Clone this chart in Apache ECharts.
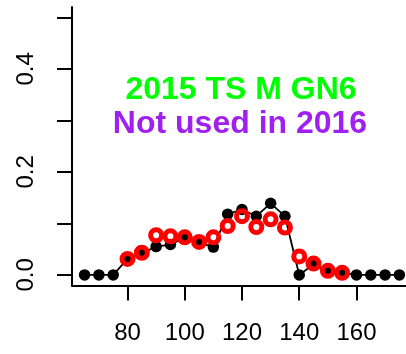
<!DOCTYPE html>
<html>
<head>
<meta charset="utf-8">
<script src="https://cdn.jsdelivr.net/npm/echarts@6/dist/echarts.min.js"></script>
<style>
  html, body { margin: 0; padding: 0; background: #fff; }
  #chart { width: 406px; height: 354px; }
</style>
</head>
<body>
<div id="chart"></div>
<script>
// Length bins (x) and the two proportion series
const lengths = [65, 70, 75, 80, 85, 90, 95, 100, 105, 110, 115, 120, 125, 130, 135, 140, 145, 150, 155, 160, 165, 170, 175];
const observed = [0, 0, 0, 0.031, 0.042, 0.055, 0.059, 0.072, 0.063, 0.054, 0.118, 0.127, 0.114, 0.139, 0.114, 0, 0.021, 0.006, 0.004, 0, 0, 0, 0];
const expectedLens = [80, 85, 90, 95, 100, 105, 110, 115, 120, 125, 130, 135, 140, 145, 150, 155];
const expected = [0.031, 0.043, 0.077, 0.075, 0.073, 0.064, 0.073, 0.095, 0.114, 0.093, 0.108, 0.092, 0.036, 0.022, 0.008, 0.004];

const xTicks = [80, 100, 120, 140, 160];
const yTicks = [0, 0.1, 0.2, 0.3, 0.4, 0.5];
const yLabels = [0, 0.2, 0.4];

const titleLine1 = '2015 TS M GN6';
const titleLine2 = 'Not used in 2016';

const chart = echarts.init(document.getElementById('chart'), null, { renderer: 'canvas' });

const axisLineStyle = { color: '#000', width: 2 };

chart.setOption({
  animation: false,
  backgroundColor: '#fff',
  grid: {
    left: 72, top: 7, right: -6, bottom: 68.4,
    containLabel: false,
    outerBoundsMode: 'none'
  },
  xAxis: {
    type: 'value',
    min: 60.6, max: 179.4,
    axisLine: { show: true, onZero: false, lineStyle: axisLineStyle },
    axisTick: { show: true, length: 15, lineStyle: axisLineStyle, customValues: xTicks },
    axisLabel: {
      show: true, margin: 36, customValues: xTicks,
      fontFamily: 'Liberation Sans, Arial, sans-serif', fontSize: 24, color: '#000'
    },
    splitLine: { show: false }
  },
  yAxis: {
    type: 'value',
    min: -0.0207, max: 0.52,
    axisLine: { show: true, onZero: false, lineStyle: axisLineStyle },
    axisTick: { show: true, length: 15, lineStyle: axisLineStyle, customValues: yTicks },
    axisLabel: {
      show: true, margin: 34, rotate: 90, customValues: yLabels,
      formatter: v => Number(v).toFixed(1),
      fontFamily: 'Liberation Sans, Arial, sans-serif', fontSize: 24, color: '#000'
    },
    splitLine: { show: false }
  },
  graphic: [
    {
      type: 'text', x: 241, y: 90,
      style: {
        text: titleLine1, textAlign: 'center', textVerticalAlign: 'middle',
        font: 'bold 32px "Liberation Sans", Arial, sans-serif', fill: '#00ff00'
      }
    },
    {
      type: 'text', x: 240, y: 124,
      style: {
        text: titleLine2, textAlign: 'center', textVerticalAlign: 'middle',
        font: 'bold 32px "Liberation Sans", Arial, sans-serif', fill: '#a020f0'
      }
    }
  ],
  series: [
    {
      type: 'line',
      data: lengths.map((x, i) => [x, observed[i]]),
      symbol: 'circle', symbolSize: 11.5,
      itemStyle: { color: '#000', opacity: 1 },
      lineStyle: { color: '#000', width: 1.8 },
      clip: false,
      z: 2
    },
    {
      type: 'scatter',
      data: expectedLens.map((x, i) => [x, expected[i]]),
      symbol: 'circle', symbolSize: 11,
      itemStyle: { color: 'rgba(0,0,0,0)', borderColor: '#ff0000', borderWidth: 5, opacity: 1 },
      clip: false,
      z: 3
    }
  ]
});
</script>
</body>
</html>
